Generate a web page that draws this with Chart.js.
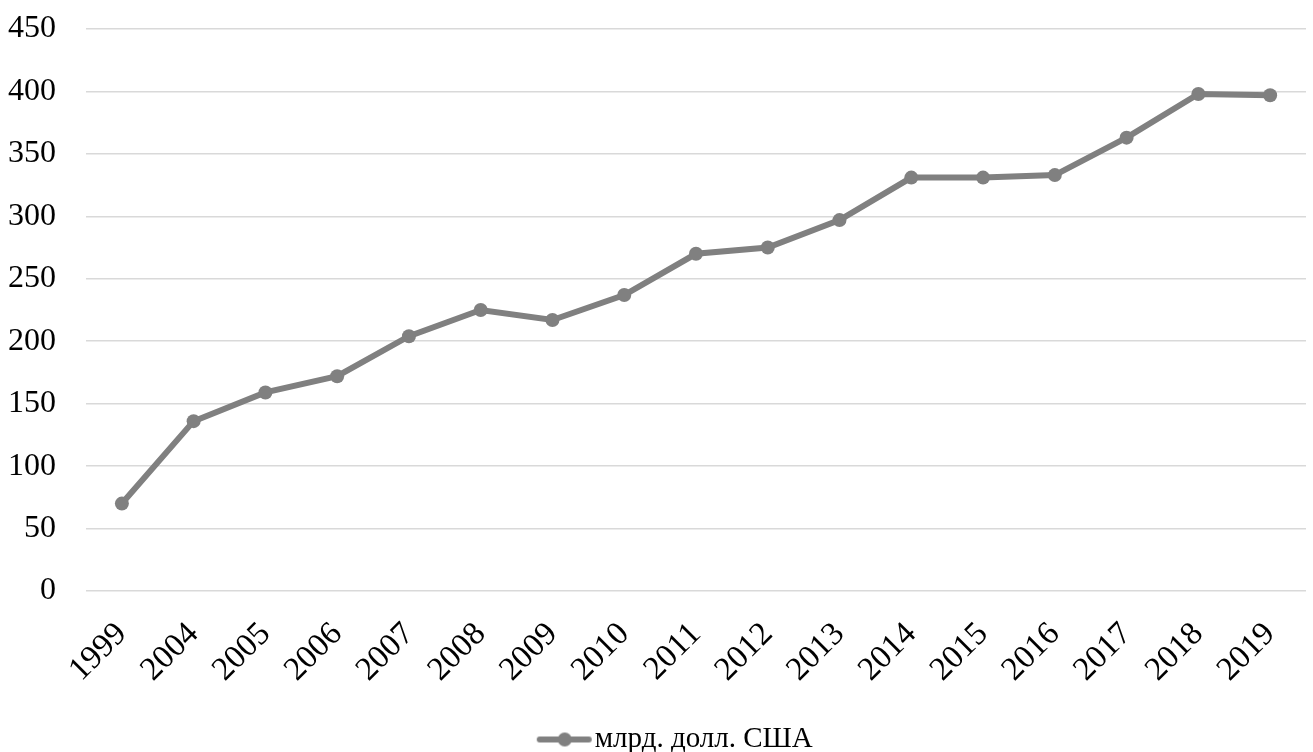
<!DOCTYPE html>
<html>
<head>
<meta charset="utf-8">
<script src="https://cdn.jsdelivr.net/npm/chart.js@4"></script>
<style>
  body { margin: 0; background: #fff; }
  #wrap { width: 1313px; height: 752px; }
</style>
</head>
<body>
<div id="wrap"><canvas id="lineChart"></canvas></div>
<script>
const years = ['1999', '2004', '2005', '2006', '2007', '2008', '2009', '2010', '2011',
    '2012', '2013', '2014', '2015', '2016', '2017', '2018', '2019'];
const values = [70, 136, 159, 172, 204, 225, 217, 237, 270, 275, 297, 331, 331, 333, 363, 398, 397];
const seriesName = 'млрд. долл. США';

const grey = 'rgb(128, 128, 128)';
const fontFamily = '"Liberation Serif", "Times New Roman", serif';

// legend marker: line with a dot, drawn in the right part of a wider canvas
// so that it sits just before the text
function makeLegendMarker() {
    const c = document.createElement('canvas');
    c.width = 100;
    c.height = 16;
    const ctx = c.getContext('2d');
    ctx.strokeStyle = grey;
    ctx.lineWidth = 6;
    ctx.lineCap = 'round';
    ctx.beginPath();
    ctx.moveTo(47, 8);
    ctx.lineTo(96, 8);
    ctx.stroke();
    ctx.fillStyle = grey;
    ctx.beginPath();
    ctx.arc(72, 8, 7, 0, Math.PI * 2);
    ctx.fill();
    return c;
}
const marker = makeLegendMarker();

const data = {
    labels: years,
    datasets: [{
        label: seriesName,
        data: values,
        borderColor: grey,
        backgroundColor: grey,
        borderWidth: 6,
        pointRadius: 7,
        pointHoverRadius: 7,
        pointBackgroundColor: grey,
        pointBorderWidth: 0,
        tension: 0
    }]
};

const configChart = {
    type: 'line',
    data: data,
    options: {
        responsive: true,
        maintainAspectRatio: false,
        animation: false,
        layout: { padding: { left: 8, right: 3, top: 29, bottom: -12 } },
        scales: {
            x: {
                offset: true,
                grid: { display: false, drawTicks: false },
                border: { display: false },
                ticks: {
                    color: '#000',
                    font: { family: fontFamily, size: 33 },
                    minRotation: 45,
                    maxRotation: 45,
                    padding: 24
                },
                afterFit: function (scale) {
                    scale.paddingLeft = 0;
                    scale.paddingRight = 0;
                    scale.height = 133;
                }
            },
            y: {
                min: 0,
                max: 450,
                grid: { color: '#d9d9d9', lineWidth: 1.5, drawTicks: false },
                border: { display: false },
                ticks: {
                    stepSize: 50,
                    color: '#000',
                    font: { family: fontFamily, size: 32 },
                    padding: 30
                },
                afterFit: function (scale) {
                    scale.paddingTop = 0;
                    scale.paddingBottom = 0;
                    scale.width = 78;
                }
            }
        },
        plugins: {
            legend: {
                position: 'bottom',
                labels: {
                    usePointStyle: true,
                    pointStyleWidth: 75,
                    color: '#000',
                    font: { family: fontFamily, size: 29, lineHeight: 1.0 },
                    padding: 1,
                    generateLabels: function (chart) {
                        const items = Chart.defaults.plugins.legend.labels.generateLabels(chart);
                        items.forEach(function (it) { it.pointStyle = marker; });
                        return items;
                    }
                }
            },
            tooltip: { enabled: false }
        }
    }
};

let chart = new Chart(document.getElementById('lineChart'), configChart);
</script>
</body>
</html>
